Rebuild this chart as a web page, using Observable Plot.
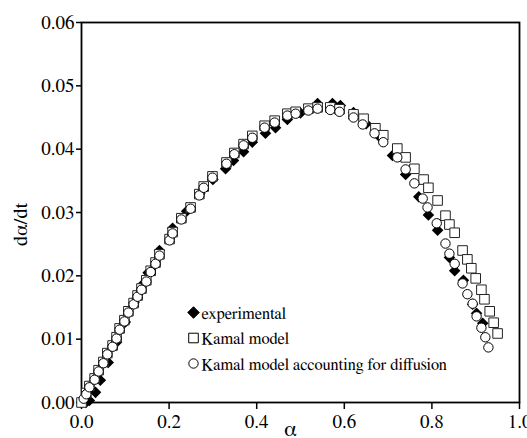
<!DOCTYPE html>
<html><head><meta charset="utf-8">
<script src="https://cdn.jsdelivr.net/npm/d3@7"></script>
<script src="https://cdn.jsdelivr.net/npm/@observablehq/plot@0.6"></script>
<style>body{margin:0;background:#fff}</style>
</head><body><div id="chart"></div>
<script>
const xTicks = [0, 0.2, 0.4, 0.6, 0.8, 1.0];
const yTicks = [0, 0.01, 0.02, 0.03, 0.04, 0.05, 0.06];

// experimental
const expAlpha = [0.000,0.010,0.018,0.032,0.043,0.061,0.080,0.100,0.120,0.139,0.152,0.178,0.208,0.240,0.270,0.300,0.329,0.347,0.370,0.390,0.420,0.443,0.470,0.500,0.539,0.573,0.591,0.621,0.650,0.680,0.710,0.740,0.770,0.792,0.813,0.840,0.852,0.872,0.893,0.902,0.916];
const expRate  = [0.0000,0.0000,0.0003,0.0016,0.0035,0.0063,0.0095,0.0127,0.0158,0.0186,0.0205,0.0240,0.0275,0.0302,0.0330,0.0352,0.0369,0.0382,0.0396,0.0411,0.0425,0.0434,0.0447,0.0457,0.0472,0.0472,0.0469,0.0458,0.0440,0.0420,0.0390,0.0360,0.0325,0.0296,0.0272,0.0229,0.0208,0.0193,0.0155,0.0141,0.0125];

// Kamal model
const kamAlpha = [0.000,0.011,0.018,0.030,0.039,0.050,0.059,0.071,0.080,0.087,0.098,0.107,0.119,0.128,0.137,0.148,0.158,0.169,0.178,0.201,0.208,0.228,0.249,0.269,0.279,0.299,0.331,0.349,0.370,0.390,0.418,0.441,0.470,0.489,0.518,0.539,0.568,0.589,0.621,0.644,0.671,0.689,0.721,0.740,0.760,0.781,0.792,0.813,0.831,0.840,0.852,0.870,0.881,0.890,0.900,0.913,0.920,0.932,0.941,0.950];
const kamRate  = [0.0000,0.0015,0.0026,0.0038,0.0051,0.0064,0.0078,0.0090,0.0103,0.0117,0.0130,0.0144,0.0157,0.0169,0.0180,0.0193,0.0208,0.0221,0.0234,0.0258,0.0269,0.0291,0.0308,0.0329,0.0341,0.0357,0.0379,0.0394,0.0408,0.0421,0.0437,0.0445,0.0456,0.0459,0.0464,0.0466,0.0466,0.0463,0.0455,0.0448,0.0433,0.0422,0.0401,0.0387,0.0369,0.0352,0.0339,0.0319,0.0295,0.0281,0.0268,0.0240,0.0226,0.0212,0.0196,0.0178,0.0163,0.0144,0.0126,0.0109];

// Kamal model accounting for diffusion
const difAlpha = [0.005,0.011,0.018,0.030,0.039,0.050,0.059,0.071,0.080,0.087,0.098,0.107,0.119,0.128,0.137,0.148,0.158,0.169,0.178,0.201,0.208,0.228,0.249,0.269,0.279,0.299,0.331,0.349,0.370,0.390,0.418,0.441,0.470,0.489,0.518,0.539,0.568,0.589,0.621,0.642,0.669,0.689,0.721,0.740,0.760,0.779,0.790,0.811,0.831,0.840,0.852,0.870,0.881,0.893,0.902,0.913,0.922,0.929];
const difRate  = [0.0006,0.0013,0.0024,0.0036,0.0049,0.0062,0.0076,0.0088,0.0101,0.0115,0.0128,0.0142,0.0155,0.0167,0.0178,0.0191,0.0206,0.0219,0.0232,0.0256,0.0267,0.0289,0.0306,0.0327,0.0339,0.0355,0.0377,0.0392,0.0406,0.0418,0.0434,0.0442,0.0453,0.0456,0.0461,0.0464,0.0462,0.0459,0.0450,0.0439,0.0425,0.0411,0.0387,0.0368,0.0346,0.0322,0.0308,0.0283,0.0251,0.0235,0.0219,0.0188,0.0171,0.0156,0.0136,0.0118,0.0103,0.0087];

const legendLabels = ["experimental", "Kamal model", "Kamal model accounting for diffusion"];
const legendSymbols = ["diamond2", "square", "circle"];
const legendFills = ["black", "white", "white"];
const xLabel = "α";
const yLabel = "dα/dt";

const toRows = (a, r) => a.map((v, i) => ({alpha: v, rate: r[i]}));
const exp = toRows(expAlpha, expRate);
const kam = toRows(kamAlpha, kamRate);
const dif = toRows(difAlpha, difRate);

const FONT = "FreeSerif, 'DejaVu Serif', serif";
const symR = {diamond2: 5.2, square: 5.4, circle: 4.7};
const legendMarks = legendLabels.flatMap((label, i) => [
  Plot.dot([label], {frameAnchor: "bottom-left", dx: 112, dy: -90 + i * 25.5, symbol: legendSymbols[i], r: symR[legendSymbols[i]], fill: legendFills[i], stroke: "black", strokeWidth: 1}),
  Plot.text([label], {frameAnchor: "bottom-left", dx: 120, dy: -89 + i * 25.5, text: d => d, textAnchor: "start", lineAnchor: "middle", fontSize: 16.5, fontFamily: FONT, fill: "black"})
]);

const chart = Plot.plot({
  width: 527, height: 438,
  marginLeft: 81, marginRight: 8, marginTop: 22, marginBottom: 36,
  style: {background: "white", color: "black", overflow: "visible"},
  x: {domain: [0, 1]},
  y: {domain: [0, 0.06]},
  marks: [
    Plot.axisX({ticks: xTicks, tickFormat: d => d.toFixed(1), tickSize: 7, tickPadding: 5, strokeWidth: 1.5, fontSize: 19, fontFamily: FONT, label: null}),
    Plot.axisY({ticks: yTicks, tickFormat: d => d.toFixed(2), tickSize: 5, tickPadding: 2, strokeWidth: 1.5, fontSize: 19, fontFamily: FONT, label: null}),
    Plot.frame({stroke: "black", strokeWidth: 1.8}),
    Plot.dot(exp, {x: "alpha", y: "rate", symbol: "diamond2", r: 5.2, fill: "black"}),
    Plot.dot(kam, {x: "alpha", y: "rate", symbol: "square", r: 5.4, fill: "white", stroke: "#222", strokeWidth: 1}),
    Plot.dot(dif, {x: "alpha", y: "rate", symbol: "circle", r: 4.7, fill: "white", stroke: "black", strokeWidth: 1}),
    Plot.text([yLabel], {frameAnchor: "left", dx: -61, dy: 12, rotate: -90, text: d => d, lineAnchor: "middle", textAnchor: "middle", fontSize: 20, fontFamily: FONT, fill: "black"}),
    Plot.text([xLabel], {frameAnchor: "bottom", dx: -10, dy: 33, text: d => d, lineAnchor: "bottom", textAnchor: "middle", fontSize: 22, fontFamily: FONT, fill: "black"}),
    ...legendMarks
  ]
});
document.getElementById("chart").append(chart);
</script>
</body></html>
